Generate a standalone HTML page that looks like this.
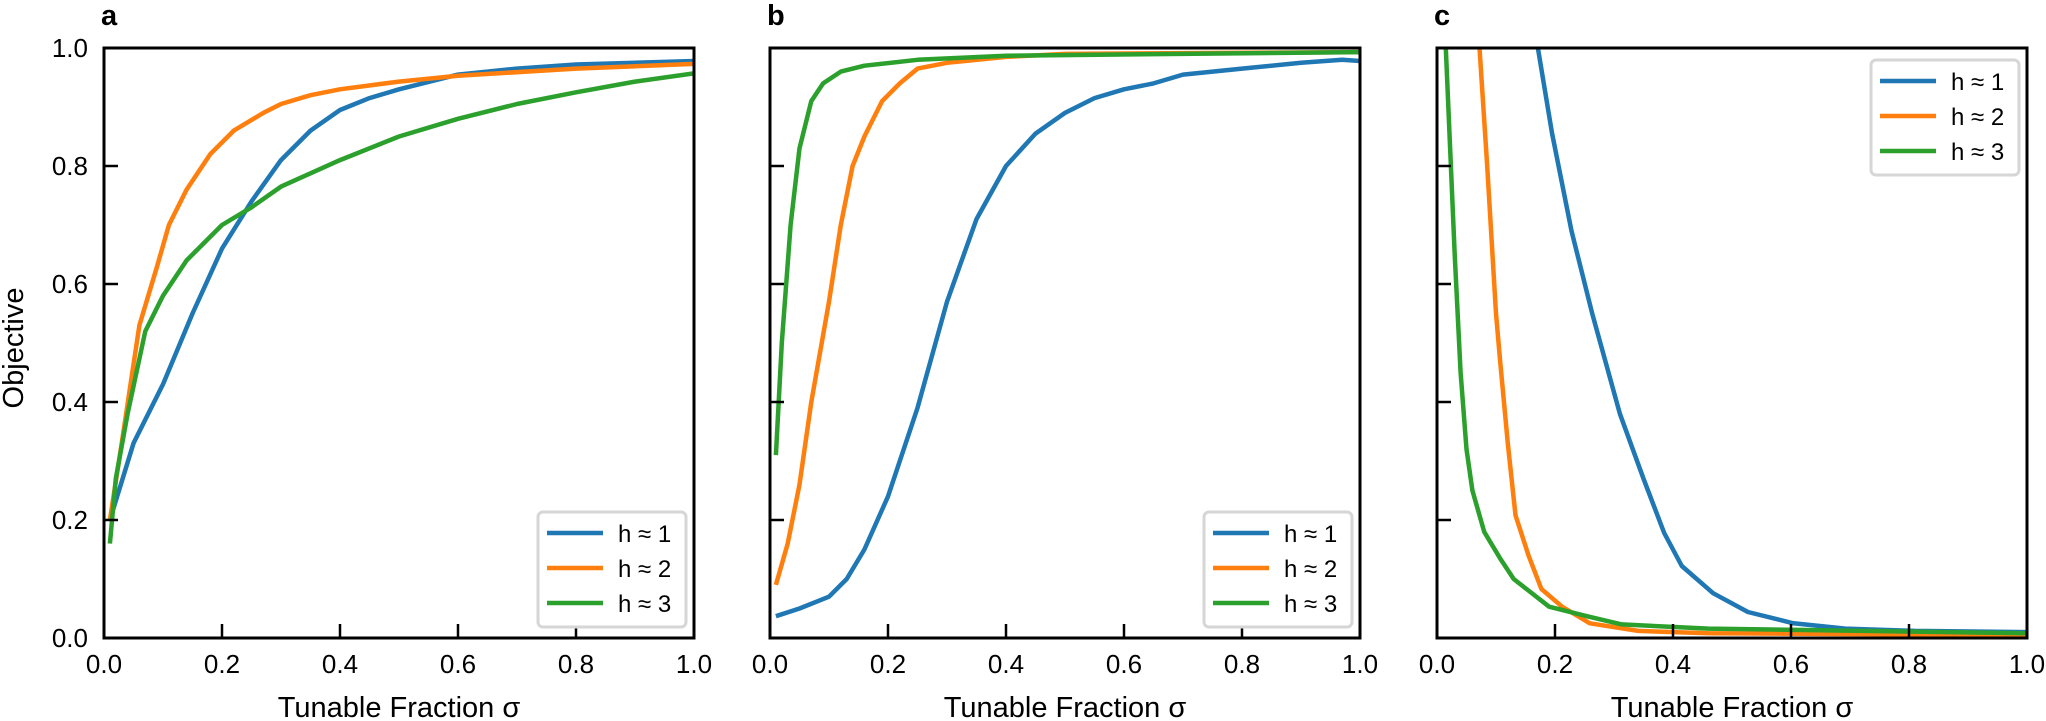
<!DOCTYPE html>
<html><head><meta charset="utf-8"><style>
html,body{margin:0;padding:0;background:#fff;}
svg{display:block;font-family:"Liberation Sans",Arial,sans-serif;}
</style></head><body>
<svg id="s" width="2046" height="721" viewBox="0 0 2046 721" xmlns="http://www.w3.org/2000/svg"></svg>
<script>
const S=document.getElementById('s');
const NS='http://www.w3.org/2000/svg';
function el(t,a,txt){const e=document.createElementNS(NS,t);for(const k in a)e.setAttribute(k,a[k]);if(txt!==undefined)e.textContent=txt;S.appendChild(e);return e;}
const X0=[104,770,1437],W=590,T=48,B=638;
const C=['#1f77b4','#ff7f0e','#2ca02c'];
const data=[
[
[[0.01,0.2],[0.05,0.33],[0.1,0.43],[0.15,0.55],[0.2,0.66],[0.25,0.74],[0.3,0.81],[0.35,0.86],[0.4,0.895],[0.45,0.915],[0.5,0.93],[0.6,0.955],[0.7,0.965],[0.8,0.972],[1.0,0.978]],
[[0.01,0.2],[0.03,0.33],[0.06,0.53],[0.09,0.63],[0.11,0.7],[0.14,0.76],[0.18,0.82],[0.22,0.86],[0.27,0.89],[0.3,0.905],[0.35,0.92],[0.4,0.93],[0.5,0.943],[0.6,0.953],[0.8,0.965],[1.0,0.973]],
[[0.01,0.16],[0.02,0.27],[0.04,0.38],[0.07,0.52],[0.1,0.58],[0.14,0.64],[0.2,0.7],[0.25,0.73],[0.3,0.765],[0.4,0.81],[0.5,0.85],[0.6,0.88],[0.7,0.905],[0.8,0.925],[0.9,0.943],[1.0,0.957]]
],[
[[0.01,0.037],[0.05,0.05],[0.1,0.07],[0.13,0.1],[0.16,0.15],[0.2,0.24],[0.25,0.39],[0.3,0.57],[0.35,0.71],[0.4,0.8],[0.45,0.855],[0.5,0.89],[0.55,0.915],[0.6,0.93],[0.65,0.94],[0.7,0.955],[0.8,0.965],[0.9,0.975],[0.97,0.98],[1.0,0.978]],
[[0.01,0.09],[0.03,0.16],[0.05,0.26],[0.07,0.4],[0.1,0.57],[0.12,0.7],[0.14,0.8],[0.16,0.85],[0.19,0.91],[0.22,0.94],[0.25,0.965],[0.3,0.975],[0.4,0.985],[0.5,0.99],[1,0.993]],
[[0.01,0.31],[0.02,0.5],[0.035,0.7],[0.05,0.83],[0.07,0.91],[0.09,0.94],[0.12,0.96],[0.16,0.97],[0.25,0.98],[0.4,0.987],[1,0.993]]
],[
[[0.171,1],[0.195,0.856],[0.228,0.69],[0.263,0.55],[0.31,0.38],[0.35,0.27],[0.385,0.178],[0.415,0.122],[0.468,0.076],[0.527,0.044],[0.604,0.025],[0.692,0.016],[0.81,0.012],[1.0,0.01]],
[[0.072,1],[0.085,0.8],[0.1,0.55],[0.107,0.47],[0.12,0.33],[0.133,0.208],[0.155,0.14],[0.177,0.083],[0.212,0.053],[0.259,0.025],[0.341,0.012],[0.46,0.008],[1.0,0.005]],
[[0.015,1],[0.03,0.65],[0.04,0.45],[0.05,0.32],[0.06,0.25],[0.08,0.18],[0.107,0.135],[0.13,0.1],[0.19,0.053],[0.254,0.037],[0.313,0.023],[0.46,0.016],[1.0,0.008]]
]];
const ticks=[0,0.2,0.4,0.6,0.8,1.0];
for(let p=0;p<3;p++){
  const x0=X0[p];
  const cp=el('clipPath',{id:'c'+p});
  const r=document.createElementNS(NS,'rect');r.setAttribute('x',x0);r.setAttribute('y',T);r.setAttribute('width',W);r.setAttribute('height',B-T);cp.appendChild(r);
  for(let i=0;i<3;i++){
    const pts=data[p][i].map(d=>(x0+d[0]*W).toFixed(1)+','+(B-d[1]*(B-T)).toFixed(1)).join(' ');
    el('polyline',{points:pts,fill:'none',stroke:C[i],'stroke-width':4.5,'stroke-linejoin':'round','clip-path':'url(#c'+p+')'});
  }
  ticks.forEach(t=>{
    const tx=x0+t*W, ty=B-t*(B-T);
    el('line',{x1:tx,y1:B,x2:tx,y2:B-14,stroke:'#000','stroke-width':2.5});
    el('line',{x1:x0,y1:ty,x2:x0+14,y2:ty,stroke:'#000','stroke-width':2.5});
    el('text',{x:tx,y:673,'font-size':26,'text-anchor':'middle'},t.toFixed(1));
    if(p==0) el('text',{x:x0-16,y:ty+9,'font-size':26,'text-anchor':'end'},t.toFixed(1));
  });
  el('rect',{x:x0,y:T,width:W,height:B-T,fill:'none',stroke:'#000','stroke-width':3});
  el('text',{x:x0+W/2,y:717,'font-size':29,'text-anchor':'middle'},'Tunable Fraction σ');
  el('text',{x:x0-3,y:25,'font-size':29,'font-weight':'bold'},['a','b','c'][p]);
  const lx=x0+W-156, ly=(p==2)?60:512;
  el('rect',{x:lx,y:ly,width:148,height:115,rx:5,fill:'#fff',stroke:'#d6d6d6','stroke-width':3});
  for(let i=0;i<3;i++){
    const yy=ly+21+i*35;
    el('line',{x1:lx+9,y1:yy,x2:lx+65,y2:yy,stroke:C[i],'stroke-width':4.5});
    el('text',{x:lx+80,y:yy+9,'font-size':24},'h ≈ '+(i+1));
  }
}
el('text',{x:0,y:0,'font-size':29,'text-anchor':'middle',transform:'translate(23,348) rotate(-90)'},'Objective');
</script>
</body></html>
